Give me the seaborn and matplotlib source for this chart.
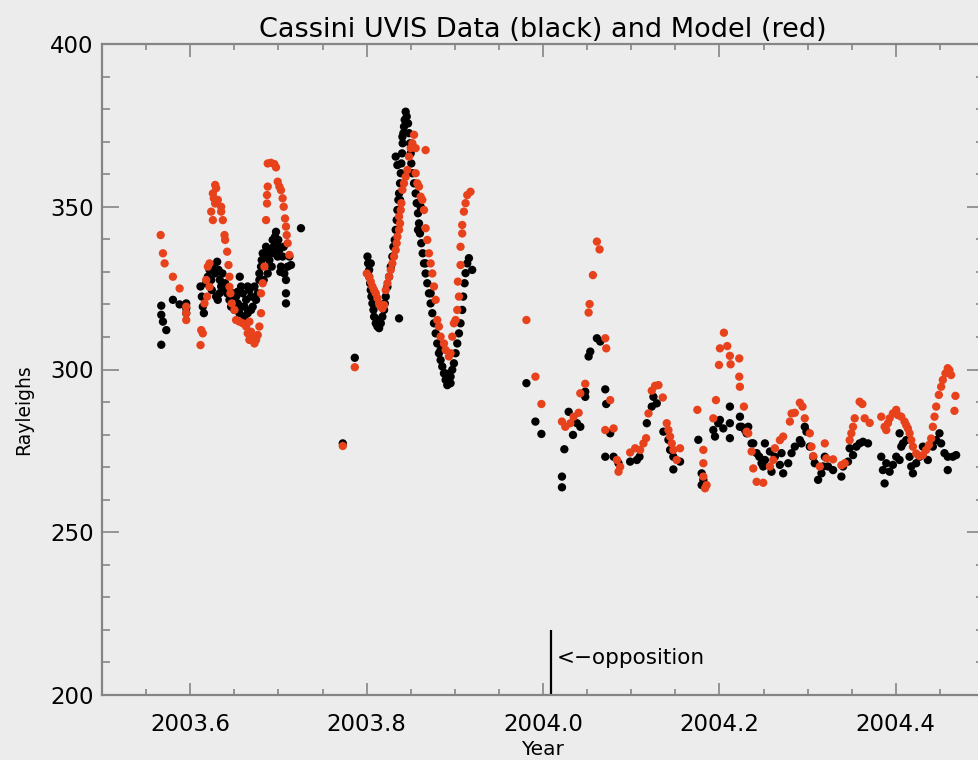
import numpy as np
import pandas as pd
import matplotlib
matplotlib.use("Agg")
import matplotlib.pyplot as plt
from matplotlib.ticker import MultipleLocator, FixedLocator
import seaborn as sns

# ---------------- data ----------------
data_year = [
    2003.5672, 2003.5672, 2003.5691, 2003.5729, 2003.5672, 2003.5804, 2003.5880, 2003.5955, 2003.5955, 2003.5955,
    2003.6117, 2003.6132, 2003.6143, 2003.6155, 2003.6181, 2003.6200, 2003.6219, 2003.6238, 2003.6245, 2003.6268,
    2003.6283, 2003.6306, 2003.6321, 2003.6336, 2003.6351, 2003.6366, 2003.6381, 2003.6396, 2003.6294, 2003.6332,
    2003.6419, 2003.6434, 2003.6456, 2003.6313, 2003.6562,
    2003.6445, 2003.6464, 2003.6483, 2003.6502, 2003.6520, 2003.6539, 2003.6558, 2003.6577, 2003.6596, 2003.6615,
    2003.6634, 2003.6652, 2003.6671, 2003.6690, 2003.6709, 2003.6728, 2003.6747, 2003.6766, 2003.6784, 2003.6615,
    2003.6539, 2003.6690, 2003.6652, 2003.6577,
    2003.6784, 2003.6803, 2003.6811, 2003.6822, 2003.6833, 2003.6841, 2003.6860, 2003.6879, 2003.6898, 2003.6916,
    2003.6935, 2003.6946, 2003.6954, 2003.6962, 2003.6973, 2003.6984, 2003.6992, 2003.6999, 2003.7011, 2003.7029,
    2003.7048, 2003.7067, 2003.7086, 2003.7086, 2003.7086, 2003.7105, 2003.7124, 2003.7143, 2003.6924, 2003.6879,
    2003.7022, 2003.7060, 2003.7256,
    2003.7730,
    2003.7866, 2003.8368,
    2003.8010, 2003.8017, 2003.8029, 2003.8029, 2003.8040, 2003.8047, 2003.8055, 2003.8066, 2003.8078, 2003.8085,
    2003.8104, 2003.8123, 2003.8142,
    2003.8161, 2003.8179, 2003.8198, 2003.8206, 2003.8217, 2003.8236, 2003.8255, 2003.8274, 2003.8292, 2003.8304,
    2003.8319, 2003.8330, 2003.8341, 2003.8349, 2003.8360, 2003.8368, 2003.8379, 2003.8387, 2003.8394, 2003.8402,
    2003.8409, 2003.8417, 2003.8424, 2003.8432, 2003.8443, 2003.8455, 2003.8470,
    2003.8481, 2003.8492, 2003.8500, 2003.8507, 2003.8519, 2003.8538, 2003.8556, 2003.8568, 2003.8583, 2003.8594,
    2003.8605, 2003.8620, 2003.8636, 2003.8651, 2003.8669, 2003.8688, 2003.8707, 2003.8726, 2003.8745, 2003.8764,
    2003.8783, 2003.8801, 2003.8820, 2003.8839, 2003.8858, 2003.8877, 2003.8896, 2003.8915, 2003.8933, 2003.8952,
    2003.8971, 2003.8990, 2003.9009, 2003.9028, 2003.9047, 2003.9065, 2003.9084, 2003.9095, 2003.9111, 2003.9122,
    2003.9141, 2003.9160, 2003.9197,
    2003.8349, 2003.8330, 2003.8406, 2003.8379, 2003.8583, 2003.8613, 2003.8047, 2003.8123, 2003.8896, 2003.8952,
    2003.8839, 2003.8726, 2003.8669,
    2003.9812, 2003.9914, 2003.9982, 2004.0215, 2004.0215, 2004.0242, 2004.0291, 2004.0385, 2004.0423, 2004.0340,
    2004.0517, 2004.0536, 2004.0611, 2004.0649, 2004.0479, 2004.0479, 2004.0706, 2004.0717, 2004.0762, 2004.0706,
    2004.0800, 2004.0856, 2004.0988, 2004.1064, 2004.1094, 2004.1177, 2004.1252, 2004.1290, 2004.1233, 2004.1365,
    2004.1422, 2004.1441, 2004.1478, 2004.1554, 2004.1478, 2004.1761, 2004.1799, 2004.1818, 2004.1799, 2004.1931,
    2004.1950, 2004.1987, 2004.2006, 2004.2044, 2004.2119, 2004.2119, 2004.2119, 2004.2232,
    2004.2233, 2004.2252, 2004.2290, 2004.2327, 2004.2309, 2004.2365, 2004.2384, 2004.2422, 2004.2452, 2004.2478,
    2004.2516, 2004.2516, 2004.2497, 2004.2573, 2004.2591, 2004.2629, 2004.2704, 2004.2686, 2004.2723, 2004.2780,
    2004.2818, 2004.2855, 2004.2912, 2004.2931, 2004.2968, 2004.2987, 2004.3025, 2004.3063, 2004.3081, 2004.3119,
    2004.3157, 2004.3176, 2004.3195, 2004.3232, 2004.3289, 2004.3383, 2004.3402, 2004.3458, 2004.3477, 2004.3515,
    2004.3553, 2004.3590, 2004.3628, 2004.3685,
    2004.3835, 2004.3854, 2004.3873, 2004.3892, 2004.3930, 2004.3967, 2004.4005, 2004.4043, 2004.4062, 2004.4043,
    2004.4081, 2004.4118, 2004.4156, 2004.4175, 2004.4194, 2004.4231, 2004.4269, 2004.4307, 2004.4363, 2004.4420,
    2004.4458, 2004.4495, 2004.4514, 2004.4552, 2004.4589, 2004.4589, 2004.4646, 2004.4684,
]
data_rayleighs = [
    319.6, 316.8, 314.7, 312.1, 307.6, 321.4, 320.0, 320.3, 318.8, 317.3,
    325.5, 322.4, 319.3, 317.3, 326.5, 328.5, 330.6, 327.5, 324.4, 331.6,
    329.5, 333.1, 330.6, 327.5, 325.5, 329.5, 324.4, 326.5, 322.4, 323.4,
    323.4, 324.9, 322.4, 321.4, 328.5,
    321.4, 319.3, 323.4, 318.3, 322.4, 320.3, 317.3, 325.5, 323.4, 319.3,
    321.4, 317.3, 324.4, 322.4, 319.3, 325.5, 321.4, 323.4, 327.5, 316.2,
    323.9, 318.3, 325.5, 319.3,
    329.5, 331.6, 333.6, 335.7, 327.5, 334.7, 337.7, 336.7, 333.6, 335.7,
    339.8, 337.7, 335.7, 340.8, 342.3, 338.8, 334.7, 339.8, 336.7, 331.6,
    334.7, 329.5, 327.5, 323.4, 320.3, 331.6, 334.7, 332.1, 331.6, 329.5,
    330.0, 337.7, 343.4,
    277.3,
    303.6, 315.7,
    334.7, 332.6, 330.6, 328.5, 326.5, 324.4, 322.4, 320.3, 318.3, 316.2,
    314.2, 313.2, 312.7,
    314.2, 316.2, 318.3, 320.3, 322.4, 325.4, 328.5, 331.6, 334.7, 337.7,
    339.8, 342.9, 345.9, 349.0, 352.1, 354.1, 357.2, 360.3, 363.3, 366.4,
    369.5, 372.6, 374.6, 376.7, 379.2, 377.7, 375.6,
    372.6, 369.5, 366.4, 363.3, 360.3, 357.2, 354.1, 351.1, 348.0, 344.9,
    341.8, 338.8, 335.7, 332.6, 329.5, 326.5, 323.4, 320.3, 317.3, 314.2,
    311.1, 308.0, 305.0, 302.9, 300.9, 298.8, 296.8, 295.2, 296.3, 297.8,
    299.9, 301.9, 305.0, 308.0, 311.1, 314.2, 318.3, 322.4, 326.5, 329.6,
    332.6, 334.2, 330.6,
    362.8, 365.4, 371.5, 352.1, 342.9, 350.0, 332.6, 315.2, 298.8, 295.8,
    306.0, 323.4, 332.6,
    295.8, 284.0, 280.2, 267.1, 263.8, 275.5, 287.0, 283.5, 282.4, 279.9,
    304.0, 305.5, 309.6, 308.6, 293.2, 291.6, 293.9, 289.4, 280.4, 273.2,
    273.2, 271.2, 271.7, 272.2, 273.2, 283.5, 291.6, 289.6, 288.6, 280.9,
    278.4, 275.3, 273.2, 271.7, 269.3, 278.4, 268.1, 266.1, 264.5, 281.4,
    279.4, 283.5, 284.5, 281.9, 283.5, 288.6, 278.9, 282.4,
    285.5, 282.4, 281.4, 282.4, 280.4, 277.3, 277.3, 274.3, 273.2, 271.2,
    277.3, 272.2, 270.2, 274.8, 268.6, 273.2, 274.3, 270.7, 268.1, 271.2,
    274.3, 276.3, 278.3, 277.3, 282.4, 280.9, 276.3, 273.2, 271.2, 266.1,
    268.1, 270.2, 273.2, 270.2, 269.1, 267.1, 270.2, 271.7, 275.8, 273.7,
    276.3, 277.3, 277.8, 277.3,
    273.2, 269.1, 265.0, 271.2, 268.6, 270.7, 273.2, 272.2, 276.3, 280.4,
    277.3, 278.3, 273.2, 270.2, 268.1, 271.2, 273.2, 276.3, 272.2, 276.3,
    278.3, 280.4, 277.3, 274.3, 273.2, 269.1, 273.2, 273.7,
]

model_year = [
    2003.5665, 2003.5691, 2003.5710, 2003.5804, 2003.5880, 2003.5955, 2003.5955, 2003.5955, 2003.6125, 2003.6143,
    2003.6117,
    2003.6283, 2003.6294, 2003.6257, 2003.6268, 2003.6283, 2003.6313, 2003.6238, 2003.6257, 2003.6351, 2003.6351,
    2003.6370, 2003.6389, 2003.6396, 2003.6419, 2003.6434, 2003.6445, 2003.6219, 2003.6200, 2003.6181, 2003.6192,
    2003.6162, 2003.6219,
    2003.6445, 2003.6456, 2003.6471, 2003.6502, 2003.6520, 2003.6558, 2003.6596, 2003.6634, 2003.6671, 2003.6690,
    2003.6652, 2003.6709, 2003.6747, 2003.6671, 2003.6728, 2003.6766, 2003.6784, 2003.6803, 2003.6803, 2003.6822,
    2003.6841,
    2003.6879, 2003.6916, 2003.6954, 2003.6973, 2003.6879, 2003.6871, 2003.6871, 2003.6860, 2003.6992, 2003.7011,
    2003.7029, 2003.7048, 2003.7060, 2003.7075, 2003.7086, 2003.7094, 2003.7105, 2003.7124,
    2003.7730,
    2003.7866,
    2003.8002, 2003.8029, 2003.8047, 2003.8066, 2003.8085, 2003.8104, 2003.8123, 2003.8142, 2003.8161, 2003.8179,
    2003.8198, 2003.8217, 2003.8236, 2003.8255, 2003.8274, 2003.8292, 2003.8311, 2003.8330, 2003.8341, 2003.8349,
    2003.8368, 2003.8379, 2003.8368, 2003.8387, 2003.8394, 2003.8406, 2003.8424, 2003.8443, 2003.8462, 2003.8481,
    2003.8500, 2003.8519, 2003.8538, 2003.8556, 2003.8669,
    2003.8556, 2003.8575, 2003.8594, 2003.8613, 2003.8632, 2003.8651, 2003.8669, 2003.8688, 2003.8707, 2003.8726,
    2003.8745, 2003.8764, 2003.8783, 2003.8801, 2003.8820, 2003.8839, 2003.8877, 2003.8896, 2003.8933, 2003.8952,
    2003.8971, 2003.8990, 2003.9009, 2003.9028, 2003.9047, 2003.9035, 2003.9065, 2003.9065, 2003.9084, 2003.9084,
    2003.9103, 2003.9122, 2003.9141, 2003.9178,
    2003.9812, 2003.9914, 2003.9982, 2004.0215, 2004.0253, 2004.0310, 2004.0347, 2004.0404, 2004.0423, 2004.0479,
    2004.0517, 2004.0528, 2004.0566, 2004.0611, 2004.0641, 2004.0706, 2004.0717, 2004.0762, 2004.0706, 2004.0800,
    2004.0838, 2004.0875, 2004.0856, 2004.0988, 2004.1045, 2004.1101, 2004.1139, 2004.1169, 2004.1196, 2004.1233,
    2004.1271, 2004.1309, 2004.1358, 2004.1403, 2004.1422, 2004.1441, 2004.1460, 2004.1478, 2004.1516, 2004.1554,
    2004.1750, 2004.1818, 2004.1818, 2004.1818, 2004.1837, 2004.1855, 2004.1931, 2004.1961, 2004.2006, 2004.2051,
    2004.2089, 2004.2119, 2004.2127, 2004.1995, 2004.2225, 2004.2225, 2004.2232,
    2004.2278, 2004.2309, 2004.2327, 2004.2365, 2004.2384, 2004.2422, 2004.2497, 2004.2573, 2004.2610, 2004.2629,
    2004.2686, 2004.2723, 2004.2799, 2004.2818, 2004.2855, 2004.2912, 2004.2942, 2004.2968, 2004.3025, 2004.3044,
    2004.3063, 2004.3138, 2004.3195, 2004.3213, 2004.3289, 2004.3383, 2004.3421, 2004.3477, 2004.3496, 2004.3515,
    2004.3534, 2004.3590, 2004.3621, 2004.3647, 2004.3704,
    2004.3835, 2004.3873, 2004.3892, 2004.3911, 2004.3930, 2004.3967, 2004.4005, 2004.4024, 2004.4062, 2004.4099,
    2004.4118, 2004.4137, 2004.4156, 2004.4175, 2004.4194, 2004.4231, 2004.4269, 2004.4307, 2004.4344, 2004.4375,
    2004.4401, 2004.4420, 2004.4439, 2004.4458, 2004.4488, 2004.4514, 2004.4533, 2004.4563, 2004.4589, 2004.4608,
    2004.4627, 2004.4676, 2004.4665,
]
model_rayleighs = [
    341.3, 335.7, 332.6, 328.5, 324.9, 319.3, 317.3, 315.2, 312.1, 311.1,
    307.5,
    356.7, 355.7, 354.1, 352.6, 351.0, 352.1, 348.5, 345.9, 350.0, 348.5,
    345.9, 341.3, 339.8, 336.2, 332.1, 328.5, 332.6, 331.6, 327.5, 322.4,
    320.3, 325.4,
    325.4, 323.4, 320.3, 318.3, 315.2, 314.7, 314.2, 313.2, 314.7, 311.6,
    311.1, 310.1, 309.1, 309.1, 308.0, 310.6, 313.2, 317.3, 323.4, 326.5,
    331.6,
    363.3, 363.5, 363.1, 362.1, 356.2, 353.6, 351.0, 345.9, 357.7, 356.2,
    355.1, 352.6, 350.0, 346.4, 343.9, 341.3, 338.8, 335.2,
    276.5,
    300.7,
    329.5, 328.5, 327.0, 325.5, 324.4, 323.4, 321.9, 320.3, 319.3, 318.8,
    319.8, 324.4, 326.5, 328.5, 330.6, 332.6, 334.7, 336.7, 338.8, 340.8,
    342.9, 344.9, 347.0, 349.0, 351.1, 355.2, 357.2, 359.2, 361.3, 365.4,
    368.0, 369.5, 372.1, 368.0, 367.4,
    360.3, 357.2, 356.2, 353.1, 352.1, 349.0, 343.4, 339.8, 335.7, 332.6,
    329.5, 325.5, 321.4, 315.2, 313.2, 310.1, 308.0, 306.0, 304.0, 305.0,
    310.1, 314.2, 315.2, 318.3, 322.4, 327.0, 332.1, 337.7, 341.8, 344.4,
    348.5, 351.1, 353.6, 354.6,
    315.2, 297.8, 289.4, 284.0, 282.4, 283.5, 285.5, 286.7, 292.7, 295.6,
    317.5, 320.1, 329.0, 339.3, 336.9, 309.6, 306.5, 290.6, 281.4, 281.9,
    272.2, 270.1, 268.6, 274.5, 275.8, 275.3, 277.3, 278.9, 286.5, 293.5,
    295.0, 295.2, 291.4, 283.5, 281.4, 279.4, 277.3, 275.3, 272.2, 275.8,
    287.6, 275.3, 271.2, 267.1, 263.5, 264.5, 285.0, 290.6, 306.5, 311.3,
    307.2, 304.2, 301.6, 301.4, 303.4, 297.8, 294.7,
    288.6, 280.9, 280.4, 274.8, 269.6, 265.5, 265.2, 270.2, 272.2, 275.8,
    278.3, 279.4, 284.0, 286.5, 286.7, 289.8, 288.6, 285.0, 280.4, 276.3,
    273.4, 270.2, 277.3, 272.7, 272.4, 270.6, 271.2, 278.3, 280.4, 282.4,
    285.0, 290.1, 289.4, 285.0, 283.6,
    285.5, 282.4, 281.4, 283.5, 285.0, 286.5, 287.6, 286.0, 285.5, 284.0,
    282.9, 281.9, 280.4, 278.3, 276.3, 274.2, 273.4, 273.7, 275.3, 276.8,
    278.8, 282.4, 285.5, 288.6, 292.2, 294.7, 296.8, 298.8, 300.4, 299.8,
    298.3, 291.9, 287.3,
]

series_names = ["Data", "Model"]
series_colors = ["black", "#e8421c"]
x_tick_values = [2003.6, 2003.8, 2004.0, 2004.2, 2004.4]
x_tick_labels = ["2003.6", "2003.8", "2004.0", "2004.2", "2004.4"]
y_tick_values = [200, 250, 300, 350, 400]
opposition_year = 2004.009
opposition_range = [200, 220]
title_text = "Cassini UVIS Data (black) and Model (red)"

# ---------------- figure ----------------
bg = "#ececec"
sns.set_theme(style="ticks", rc={"figure.facecolor": bg, "axes.facecolor": bg,
                                 "text.color": "black", "axes.labelcolor": "black",
                                 "xtick.labelcolor": "black", "ytick.labelcolor": "black"})
plt.rcParams["font.family"] = ["DejaVu Sans"]

df = pd.concat([
    pd.DataFrame({"Year": data_year, "Rayleighs": data_rayleighs, "series": series_names[0]}),
    pd.DataFrame({"Year": model_year, "Rayleighs": model_rayleighs, "series": series_names[1]}),
], ignore_index=True)

fig = plt.figure(figsize=(9.79, 7.60), dpi=100)
ax = fig.add_axes([102 / 979, 65 / 760, 882 / 979, 651 / 760])

sns.scatterplot(data=df, x="Year", y="Rayleighs", hue="series",
                palette=dict(zip(series_names, series_colors)),
                s=36, linewidth=0, legend=False, ax=ax)

ax.set_xlim(2003.5, 2004.5)
ax.set_ylim(200, 400)

ax.xaxis.set_major_locator(FixedLocator(x_tick_values))
ax.set_xticklabels(x_tick_labels)
ax.xaxis.set_minor_locator(MultipleLocator(0.05))
ax.yaxis.set_major_locator(FixedLocator(y_tick_values))
ax.yaxis.set_minor_locator(MultipleLocator(10))

spine_c = "#858585"
for sp in ax.spines.values():
    sp.set_color(spine_c)
    sp.set_linewidth(1.6)
    sp.set_visible(True)

ax.tick_params(axis="x", which="major", direction="in", length=9, width=1.2,
               color=spine_c, labelcolor="black", labelsize=16.5, pad=13, top=True)
ax.tick_params(axis="x", which="minor", direction="in", length=4.5, width=1.2,
               color=spine_c, top=True)
ax.tick_params(axis="y", which="major", direction="in", length=12, width=1.2,
               color=spine_c, labelcolor="black", labelsize=16.5, pad=6, right=True)
ax.tick_params(axis="y", which="minor", direction="in", length=5.5, width=1.2,
               color=spine_c, right=True)

ax.set_xlabel("Year", fontsize=14.5, labelpad=3, color="black")
ax.set_ylabel("Rayleighs", fontsize=13.5, color="black")
ax.yaxis.set_label_coords(-0.078, 0.438)
ax.set_title(title_text, fontsize=19.5, pad=5, color="black")

ax.vlines(opposition_year, opposition_range[0], opposition_range[1], color="black", linewidth=1.6)
ax.text(opposition_year + 0.007, (opposition_range[0] + opposition_range[1]) / 2 + 1.5,
        "<\u2212opposition", fontsize=15.5, va="center", ha="left", color="black")

fig.savefig("out.png", dpi=100, facecolor=bg)
